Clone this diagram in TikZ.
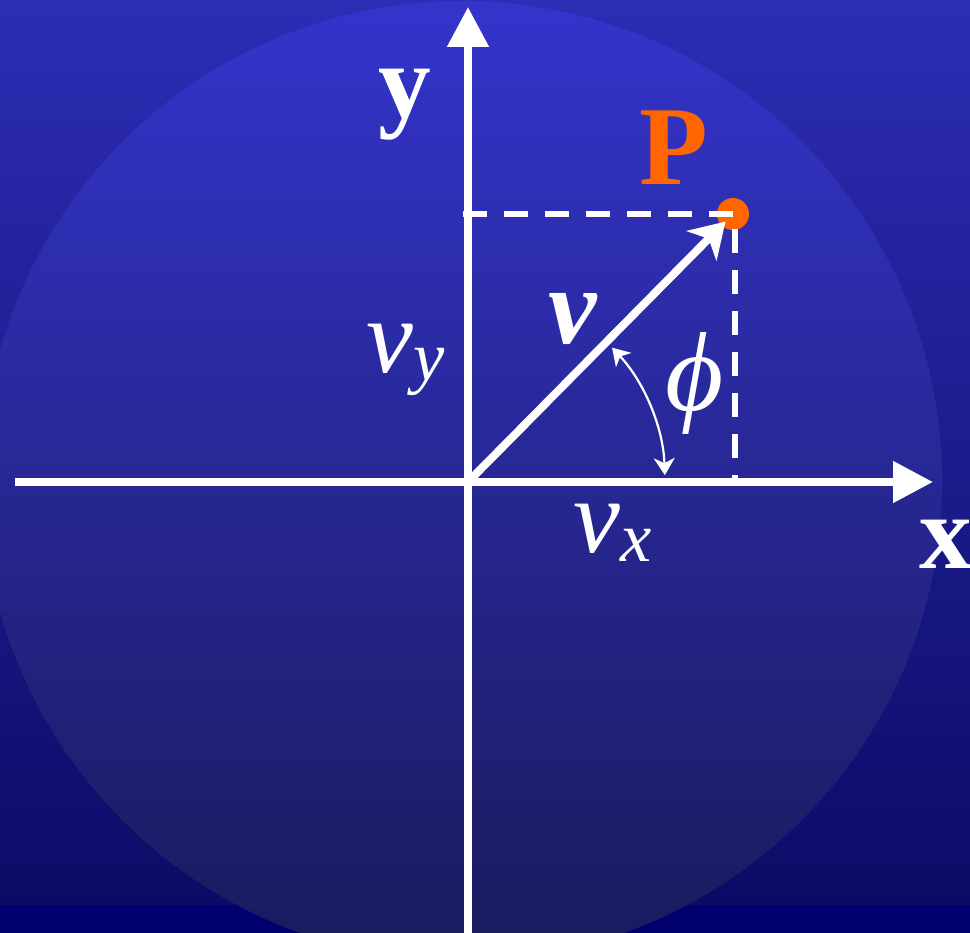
\documentclass[tikz,border=0pt]{standalone}
\usepackage{fontspec}
\setmainfont{Liberation Serif}
\usetikzlibrary{arrows.meta}

\definecolor{bgtop}{HTML}{2D2DB5}
\definecolor{bgbot}{HTML}{0B0B66}
\definecolor{bgstrip}{HTML}{00006E}
\definecolor{disctop}{HTML}{3434CC}
\definecolor{discbot}{HTML}{1A1A5C}
\definecolor{ptorange}{HTML}{FF6600}

\begin{document}
\begin{tikzpicture}[
  axis/.style={white, line width=0.08cm, -{Triangle[length=0.4cm,width=0.4cm]}},
  vecline/.style={white, line width=0.08cm, -{Stealth[length=0.34cm,width=0.42cm,inset=0.1cm]}},
  dashline/.style={white, line width=0.06cm, dash pattern=on 0.24cm off 0.17cm},
  angarc/.style={white, line width=0.022cm,
    {Stealth[length=0.17cm,width=0.21cm,inset=0.05cm]}-{Stealth[length=0.17cm,width=0.21cm,inset=0.05cm]}},
  big/.style={font=\fontsize{30}{36}\selectfont, text=white, inner sep=0pt},
]

  % 参数：单位 1cm = 100px，原点在坐标轴交点
  \pgfmathsetmacro{\r}{1.97}

  % 画布与背景
  \useasboundingbox (-4.68,-4.51) rectangle (5.02,4.82);
  \clip (-4.68,-4.51) rectangle (5.02,4.82);
  \fill[top color=bgtop, bottom color=bgbot] (-4.68,-4.23) rectangle (5.02,4.82);
  \fill[bgstrip] (-4.68,-4.51) rectangle (5.02,-4.23);

  % 大圆（浅色渐变）
  \shade[top color=disctop, bottom color=discbot] (-0.06,0.01) circle (4.80);

  % ---- 坐标轴 ----
  \coordinate (O) at (0,0);
  \coordinate (xL) at (-4.53,0);
  \coordinate (xR) at (4.65,0);
  \coordinate (yB) at (0,-4.60);
  \coordinate (yT) at (0,4.75);
  \draw[axis] (xL) -- (xR);
  \draw[axis] (yB) -- (yT);

  % 轴标注
  \node[big, font=\fontsize{30}{36}\selectfont\bfseries] (lbly) at (-0.63,3.77) {y};
  \node[big, font=\fontsize{30}{36}\selectfont\bfseries] (lblx) at (4.78,-0.62) {x};

  % ---- 点 P ----
  \node[circle, fill=ptorange, minimum size=0.32cm, inner sep=0pt] (P) at (2.65,2.68) {};
  \node[big, font=\fontsize{32}{38}\selectfont\bfseries, text=ptorange] (lblP) at (2.06,3.34) {P};

  % 投影虚线
  \coordinate (Py) at (-0.05,2.68);
  \coordinate (Px) at (2.67,-0.03);
  \draw[dashline] (Py) -| (Px);

  % 矢量 v
  \draw[vecline, shorten >=-0.06cm] (O) -- (P);
  \node[big, font=\fontsize{31}{36}\selectfont\bfseries\itshape] (lblv) at (1.05,1.63) {v};

  % 分量标注
  \node[big, anchor=base west, font=\fontsize{30}{36}\selectfont\itshape] (lblvy) at (-1.02,1.09)
    {v\raisebox{-0.08cm}{\fontsize{20}{24}\selectfont y}};
  \node[big, anchor=base west, font=\fontsize{30}{36}\selectfont\itshape] (lblvx) at (1.05,-0.71)
    {v\raisebox{-0.09cm}{\fontsize{20}{24}\selectfont x}};

  % 角 phi
  \draw[angarc] (2:\r) arc (2:43:\r);
  \node[big, font=\fontsize{32}{38}\selectfont\itshape] (lblphi) at (2.27,0.99) {ϕ};

\end{tikzpicture}
\end{document}
